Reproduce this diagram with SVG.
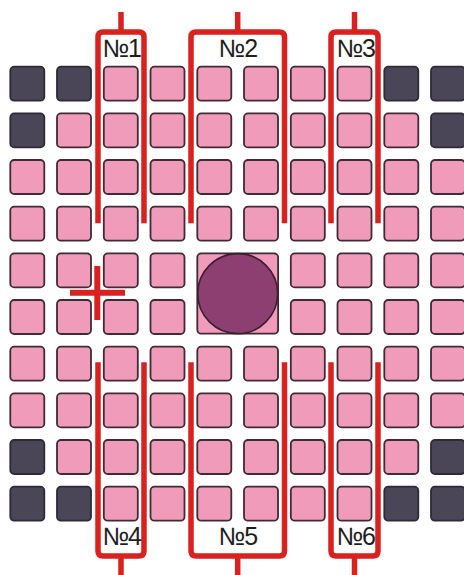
<svg xmlns="http://www.w3.org/2000/svg" width="464" height="575" viewBox="0 0 464 575">
<defs>
<style>
.p{fill:#f19bbb;stroke:#3f2a36;stroke-width:1.8}
.d{fill:#4a4658;stroke:#2e2a36;stroke-width:1.8}
.r{fill:none;stroke:#d9221f;stroke-width:5.5;stroke-linejoin:round}
.t{font-family:"Liberation Sans",Arial,sans-serif;font-size:25px;fill:#1e1e1e;text-anchor:middle;letter-spacing:-1.5px}
</style>
<rect id="c" width="34" height="34" rx="4"/>
</defs>
<rect width="464" height="575" fill="#fff"/>
<g id="cells">
<g id="r1"><use href="#c" class="d" x="10.3" y="66.7"/><use href="#c" class="d" x="57" y="66.7"/><use href="#c" class="p" x="103.8" y="66.7"/><use href="#c" class="p" x="150.5" y="66.7"/><use href="#c" class="p" x="197.3" y="66.7"/><use href="#c" class="p" x="244" y="66.7"/><use href="#c" class="p" x="290.8" y="66.7"/><use href="#c" class="p" x="337.5" y="66.7"/><use href="#c" class="d" x="384.3" y="66.7"/><use href="#c" class="d" x="431" y="66.7"/></g>
<g id="r2"><use href="#c" class="d" x="10.3" y="113.4"/><use href="#c" class="p" x="57" y="113.4"/><use href="#c" class="p" x="103.8" y="113.4"/><use href="#c" class="p" x="150.5" y="113.4"/><use href="#c" class="p" x="197.3" y="113.4"/><use href="#c" class="p" x="244" y="113.4"/><use href="#c" class="p" x="290.8" y="113.4"/><use href="#c" class="p" x="337.5" y="113.4"/><use href="#c" class="p" x="384.3" y="113.4"/><use href="#c" class="d" x="431" y="113.4"/></g>
<g id="r3"><use href="#c" class="p" x="10.3" y="160"/><use href="#c" class="p" x="57" y="160"/><use href="#c" class="p" x="103.8" y="160"/><use href="#c" class="p" x="150.5" y="160"/><use href="#c" class="p" x="197.3" y="160"/><use href="#c" class="p" x="244" y="160"/><use href="#c" class="p" x="290.8" y="160"/><use href="#c" class="p" x="337.5" y="160"/><use href="#c" class="p" x="384.3" y="160"/><use href="#c" class="p" x="431" y="160"/></g>
<g id="r4"><use href="#c" class="p" x="10.3" y="206.7"/><use href="#c" class="p" x="57" y="206.7"/><use href="#c" class="p" x="103.8" y="206.7"/><use href="#c" class="p" x="150.5" y="206.7"/><use href="#c" class="p" x="197.3" y="206.7"/><use href="#c" class="p" x="244" y="206.7"/><use href="#c" class="p" x="290.8" y="206.7"/><use href="#c" class="p" x="337.5" y="206.7"/><use href="#c" class="p" x="384.3" y="206.7"/><use href="#c" class="p" x="431" y="206.7"/></g>
<g id="r5"><use href="#c" class="p" x="10.3" y="253.4"/><use href="#c" class="p" x="57" y="253.4"/><use href="#c" class="p" x="103.8" y="253.4"/><use href="#c" class="p" x="150.5" y="253.4"/><use href="#c" class="p" x="290.8" y="253.4"/><use href="#c" class="p" x="337.5" y="253.4"/><use href="#c" class="p" x="384.3" y="253.4"/><use href="#c" class="p" x="431" y="253.4"/></g>
<g id="r6"><use href="#c" class="p" x="10.3" y="300"/><use href="#c" class="p" x="57" y="300"/><use href="#c" class="p" x="103.8" y="300"/><use href="#c" class="p" x="150.5" y="300"/><use href="#c" class="p" x="290.8" y="300"/><use href="#c" class="p" x="337.5" y="300"/><use href="#c" class="p" x="384.3" y="300"/><use href="#c" class="p" x="431" y="300"/></g>
<g id="r7"><use href="#c" class="p" x="10.3" y="346.7"/><use href="#c" class="p" x="57" y="346.7"/><use href="#c" class="p" x="103.8" y="346.7"/><use href="#c" class="p" x="150.5" y="346.7"/><use href="#c" class="p" x="197.3" y="346.7"/><use href="#c" class="p" x="244" y="346.7"/><use href="#c" class="p" x="290.8" y="346.7"/><use href="#c" class="p" x="337.5" y="346.7"/><use href="#c" class="p" x="384.3" y="346.7"/><use href="#c" class="p" x="431" y="346.7"/></g>
<g id="r8"><use href="#c" class="p" x="10.3" y="393.4"/><use href="#c" class="p" x="57" y="393.4"/><use href="#c" class="p" x="103.8" y="393.4"/><use href="#c" class="p" x="150.5" y="393.4"/><use href="#c" class="p" x="197.3" y="393.4"/><use href="#c" class="p" x="244" y="393.4"/><use href="#c" class="p" x="290.8" y="393.4"/><use href="#c" class="p" x="337.5" y="393.4"/><use href="#c" class="p" x="384.3" y="393.4"/><use href="#c" class="p" x="431" y="393.4"/></g>
<g id="r9"><use href="#c" class="d" x="10.3" y="440"/><use href="#c" class="p" x="57" y="440"/><use href="#c" class="p" x="103.8" y="440"/><use href="#c" class="p" x="150.5" y="440"/><use href="#c" class="p" x="197.3" y="440"/><use href="#c" class="p" x="244" y="440"/><use href="#c" class="p" x="290.8" y="440"/><use href="#c" class="p" x="337.5" y="440"/><use href="#c" class="p" x="384.3" y="440"/><use href="#c" class="d" x="431" y="440"/></g>
<g id="r10"><use href="#c" class="d" x="10.3" y="486.7"/><use href="#c" class="d" x="57" y="486.7"/><use href="#c" class="p" x="103.8" y="486.7"/><use href="#c" class="p" x="150.5" y="486.7"/><use href="#c" class="p" x="197.3" y="486.7"/><use href="#c" class="p" x="244" y="486.7"/><use href="#c" class="p" x="290.8" y="486.7"/><use href="#c" class="p" x="337.5" y="486.7"/><use href="#c" class="d" x="384.3" y="486.7"/><use href="#c" class="d" x="431" y="486.7"/></g>
</g>
<g id="center">
<rect class="p" x="197.3" y="253.4" width="80.8" height="80.3" rx="4"/>
<circle cx="237.7" cy="293.6" r="40" fill="#8c3f70" stroke="#3a1f2e" stroke-width="1.6"/>
</g>
<g id="connectors">
<path class="r" d="M98,223.3V37Q98,32 103,32H139Q144,32 144,37V223.3M121,12V32"/>
<path class="r" d="M191,223.3V37Q191,32 196,32H279.5Q284.5,32 284.5,37V223.3M237.7,12V32"/>
<path class="r" d="M331,223.3V37Q331,32 336,32H373Q378,32 378,37V223.3M354.5,12V32"/>
<path class="r" d="M98,362.3V551Q98,556 103,556H139Q144,556 144,551V362.3M121,556V575"/>
<path class="r" d="M191,362.3V551Q191,556 196,556H279.5Q284.5,556 284.5,551V362.3M237.7,556V575"/>
<path class="r" d="M331,362.3V551Q331,556 336,556H373Q378,556 378,551V362.3M354.5,556V575"/>
</g>
<g id="cross" stroke="#d9221f" stroke-width="6">
<line x1="70" y1="292.7" x2="125" y2="292.7"/>
<line x1="97.3" y1="266" x2="97.3" y2="320"/>
</g>
<g id="labels">
<text class="t" x="121.5" y="56.7">№1</text>
<text class="t" x="237.7" y="56.7">№2</text>
<text class="t" x="355.5" y="56.7">№3</text>
<text class="t" x="121.5" y="545">№4</text>
<text class="t" x="237.7" y="545">№5</text>
<text class="t" x="355.5" y="545">№6</text>
</g>
</svg>
